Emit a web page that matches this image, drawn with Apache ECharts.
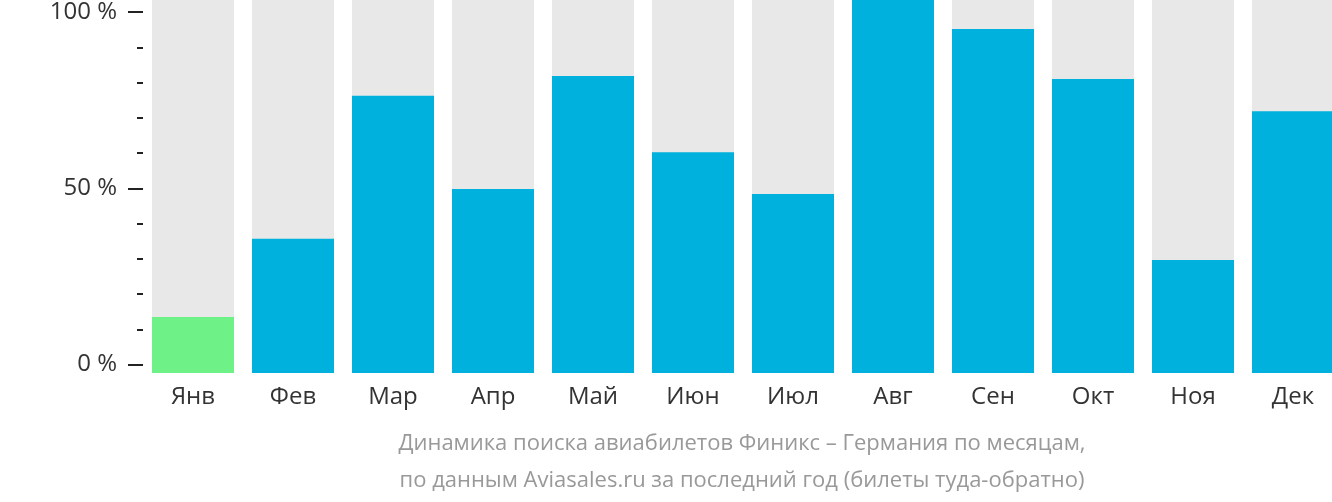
<!DOCTYPE html>
<html><head><meta charset="utf-8">
<script src="https://cdn.jsdelivr.net/npm/echarts@6/dist/echarts.min.js"></script>
<style>html,body{margin:0;padding:0;background:#fff;overflow:hidden}#c{width:1343px;height:502px}</style>
</head><body><div id="c"></div>
<script>
const months = ['Янв','Фев','Мар','Апр','Май','Июн','Июл','Авг','Сен','Окт','Ноя','Дек'];
const values = [15, 36, 74.3, 49.3, 79.6, 59.2, 48, 100, 92.2, 78.8, 30.3, 70.2];
const lowestColor = '#6ef287';
const barColor = '#00b1dd';
const tickValues = [0, 50, 100];
const titleLines = ['Динамика поиска авиабилетов Финикс – Германия по месяцам,', 'по данным Aviasales.ru за последний год (билеты туда-обратно)'];

const minVal = Math.min(...values);
const chart = echarts.init(document.getElementById('c'));
chart.setOption({
  animation: false,
  textStyle: {fontFamily: 'Open Sans'},
  grid: [
    {left: 143, right: 0, top: 0, height: 373},
    {left: 143, right: 0, top: 7.5, height: 357}
  ],
  xAxis: [
    {type: 'category', data: months, gridIndex: 0, axisLine: {show: false}, axisTick: {show: false},
     axisLabel: {color: '#333', fontSize: 24, margin: 12, fontFamily: 'Open Sans'}},
    {type: 'category', data: months, gridIndex: 1, show: false}
  ],
  yAxis: [
    {type: 'value', gridIndex: 0, min: 0, max: 100, show: false},
    {type: 'value', gridIndex: 1, min: 0, max: 100, interval: 50,
     axisLine: {show: false}, splitLine: {show: false},
     axisTick: {show: true, length: 15, lineStyle: {color: '#222', width: 2}},
     minorTick: {show: true, splitNumber: 5, length: 6, lineStyle: {color: '#222', width: 2}},
     axisLabel: {margin: 26, fontSize: 24, color: '#333', fontFamily: 'Open Sans',
       formatter: v => tickValues.includes(v) ? v + ' %' : ''}}
  ],
  series: [{
    type: 'bar', xAxisIndex: 0, yAxisIndex: 0, barWidth: 82,
    showBackground: true, backgroundStyle: {color: '#e8e8e8'},
    data: values.map(v => ({value: v, itemStyle: {color: v === minVal ? lowestColor : barColor}}))
  }],
  graphic: titleLines.map((t, i) => ({
    type: 'text', x: 742, y: 444 + i * 37,
    style: {text: t, fill: '#999', fontSize: 22, fontFamily: 'Open Sans', textAlign: 'center', textVerticalAlign: 'middle'}
  }))
});
</script></body></html>
